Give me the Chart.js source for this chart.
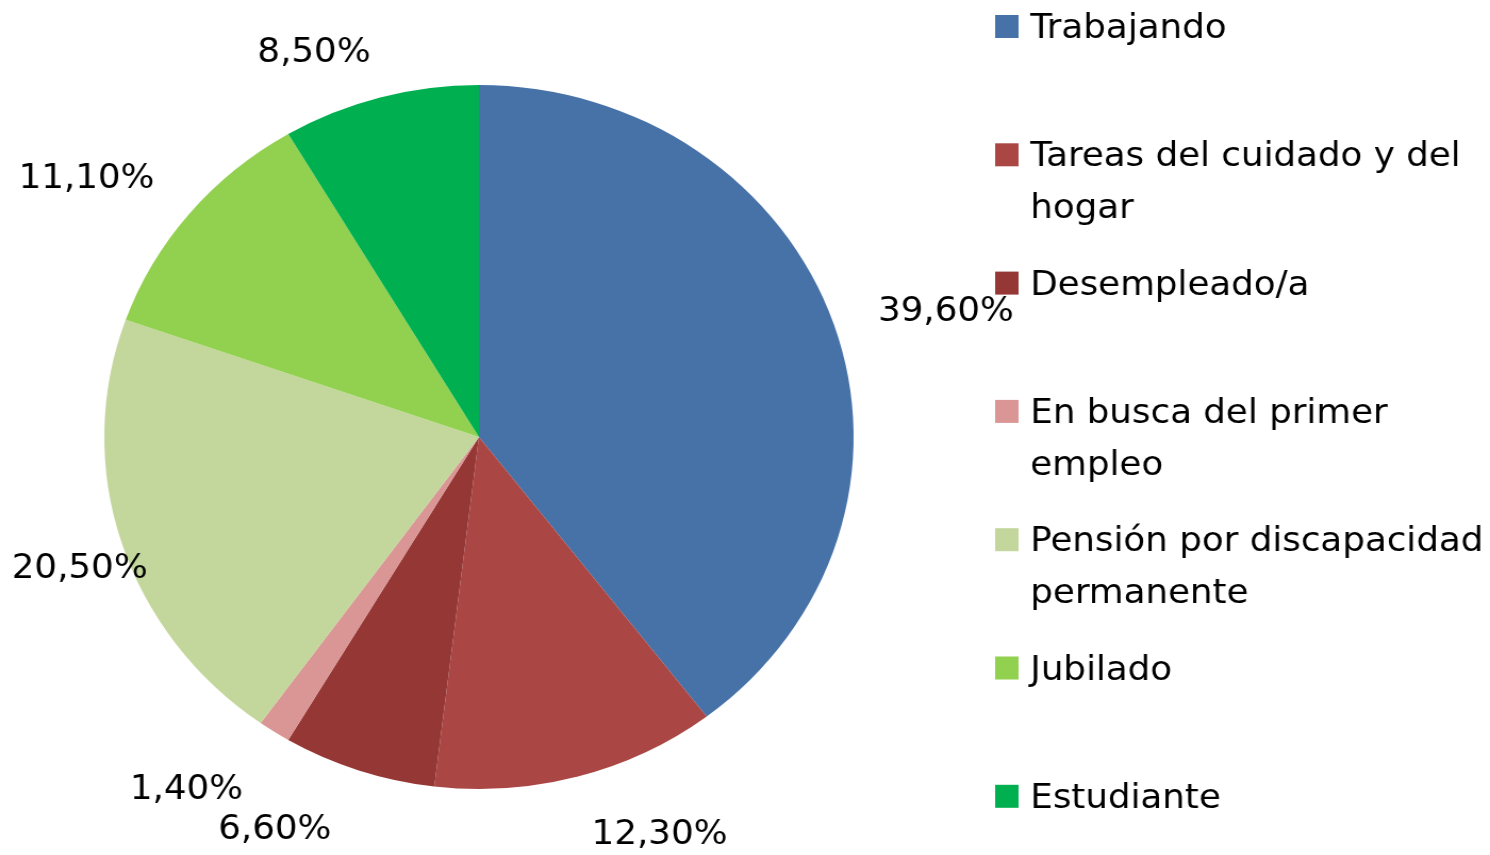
<!DOCTYPE html>
<html>
<head>
<meta charset="utf-8">
<script src="https://cdn.jsdelivr.net/npm/chart.js@4.4.0/dist/chart.umd.min.js"></script>
<style>
  html, body { margin: 0; padding: 0; background: #fff; overflow: hidden; }
  #wrap { width: 1400px; height: 855px; transform: scaleX(1.0643); transform-origin: 0 0; }
</style>
</head>
<body>
<div id="wrap"><canvas id="pie" width="1400" height="855"></canvas></div>
<script>
// datos del gráfico
var categorias = ['Trabajando', 'Tareas del cuidado y del hogar', 'Desempleado/a',
  'En busca del primer empleo', 'Pensión por discapacidad permanente', 'Jubilado', 'Estudiante'];
var porcentajes = [39.6, 12.3, 6.6, 1.4, 20.5, 11.1, 8.5];
var colores = ['#4672a8', '#aa4644', '#953735', '#d99694', '#c3d69b', '#92d050', '#00b050'];

// ajuste fino de las etiquetas (px), como el "mejor ajuste" de Excel
var desplazamientos = [[7, 22], [58, -10], [-56, -7], [-38, -10], [3, -5], [-21, 28], [-44, 22]];

var fuente = '33.5px "DejaVu Sans", Verdana, sans-serif';

function formato(v) {
  return v.toFixed(2).replace('.', ',') + '%';
}

// etiquetas fuera del círculo
var etiquetas = {
  id: 'etiquetas',
  afterDatasetsDraw: function(chart) {
    var ctx = chart.ctx;
    var meta = chart.getDatasetMeta(0);
    ctx.save();
    ctx.font = fuente;
    ctx.fillStyle = '#000';
    ctx.textAlign = 'center';
    ctx.textBaseline = 'middle';
    meta.data.forEach(function(arc, i) {
      var mid = (arc.startAngle + arc.endAngle) / 2;
      var dx = Math.cos(mid), dy = Math.sin(mid);
      var txt = formato(porcentajes[i]);
      var hw = ctx.measureText(txt).width / 2;
      var hh = 17;
      var d = arc.outerRadius + 38 + Math.abs(dx) * hw + Math.abs(dy) * hh;
      var x = arc.x + d * dx;
      var y = arc.y + d * dy;
      if (x - hw < 8) x = 8 + hw;
      ctx.fillText(txt, x + desplazamientos[i][0], y + desplazamientos[i][1]);
    });
    ctx.restore();
  }
};

// leyenda a la derecha
var leyenda = {
  id: 'leyenda',
  afterDraw: function(chart) {
    var ctx = chart.ctx;
    ctx.save();
    ctx.font = fuente;
    ctx.textBaseline = 'alphabetic';
    ctx.textAlign = 'left';
    var x0 = 935, tx = 968, maxW = 440;
    categorias.forEach(function(cat, i) {
      var base = 38 + i * 128.3;
      ctx.fillStyle = colores[i];
      ctx.fillRect(x0, base - 23, 22, 23);
      ctx.fillStyle = '#000';
      var palabras = cat.split(' ');
      var linea = '', lineas = [];
      palabras.forEach(function(p) {
        var prueba = linea ? linea + ' ' + p : p;
        if (ctx.measureText(prueba).width > maxW && linea) {
          lineas.push(linea);
          linea = p;
        } else {
          linea = prueba;
        }
      });
      lineas.push(linea);
      lineas.forEach(function(l, j) {
        ctx.fillText(l, tx, base + j * 52);
      });
    });
    ctx.restore();
  }
};

var ctx = document.getElementById('pie');
var myChart = new Chart(ctx, {
  type: 'pie',
  data: {
    labels: categorias,
    datasets: [{
      data: porcentajes,
      backgroundColor: colores,
      borderWidth: 0
    }]
  },
  options: {
    responsive: false,
    devicePixelRatio: 1,
    animation: false,
    layout: {
      padding: { left: 98, right: 598, top: 85, bottom: 66 }
    },
    plugins: {
      legend: { display: false },
      tooltip: { enabled: false }
    }
  },
  plugins: [etiquetas, leyenda]
});
</script>
</body>
</html>
